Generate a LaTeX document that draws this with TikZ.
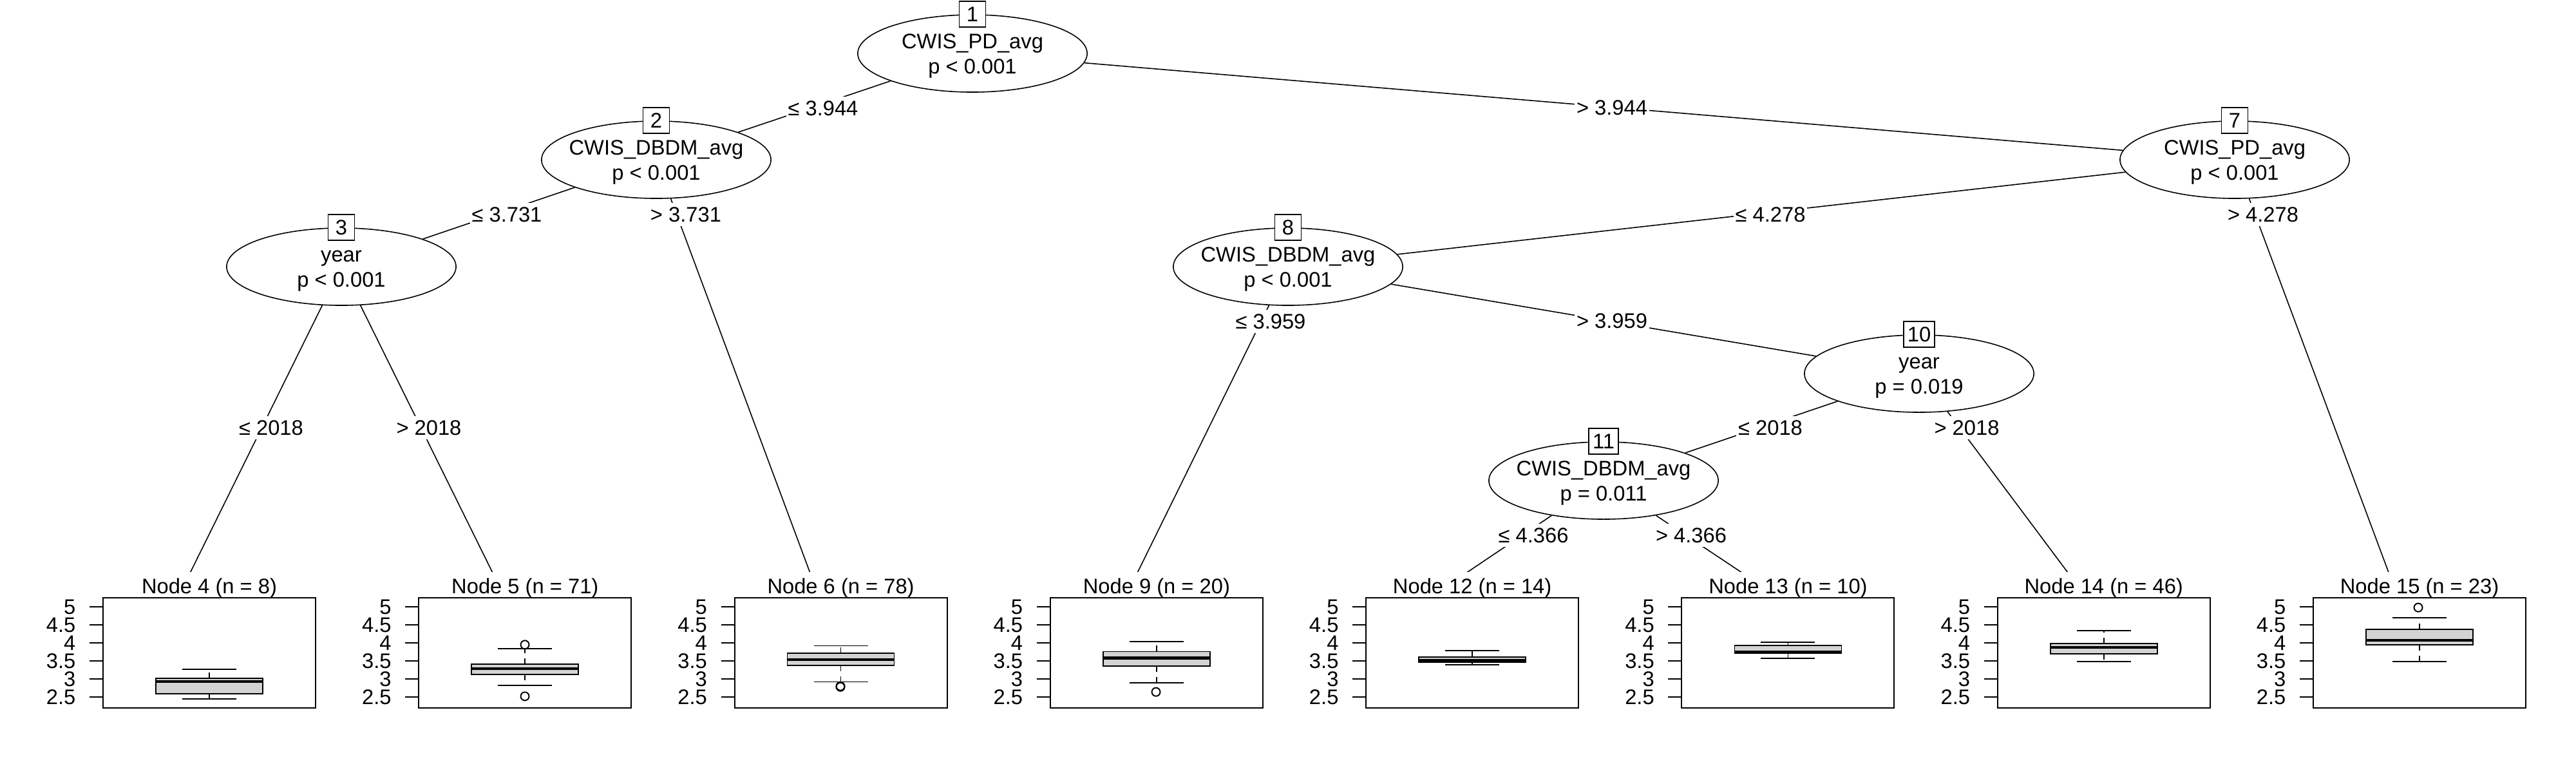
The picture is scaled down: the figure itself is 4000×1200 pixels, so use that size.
\documentclass[tikz,border=0pt]{standalone}
\usepackage{fontspec}
\setmainfont{Liberation Sans}
\usepackage{xcolor}
\usetikzlibrary{shapes.geometric}
\usetikzlibrary{backgrounds}
\definecolor{boxgray}{HTML}{D3D3D3}

\begin{document}
\begin{tikzpicture}[x = 0.01cm, y = -0.01cm,
	every node/.style = {font = \fontsize{9.3}{11.1}\selectfont},
	tree/.style = {line width = 0.45pt},
	splitnode/.style = {ellipse, draw, fill = white, line width = 0.45pt, minimum width = 3.56cm, minimum height = 1.2cm, inner sep = 0pt},
	splittext/.style = {anchor = center, align = center, inner sep = 0pt, text height = 0.624cm, text depth = 0cm},
	idbox/.style = {anchor = center, draw, fill = white, line width = 0.45pt, minimum width = 0.41cm, minimum height = 0.40cm, inner sep = 0.06cm},
	edgelbl/.style = {fill = white, inner xsep = 0.03cm, inner ysep = 0pt, text height = 0.296cm, text depth = 0.07cm},
	nodetitle/.style = {anchor = base, fill = white, inner xsep = 0.02cm, inner ysep = 0.09cm},
	tickl/.style = {anchor = east, inner sep = 0pt},
	panel/.style = {line width = 0.55pt},
	bxbox/.style = {draw, fill = boxgray, line width = 0.5pt},
	bxmed/.style = {line width = 1.2pt},
	whisk/.style = {line width = 0.5pt, dash pattern = on 0.09cm off 0.08cm}]
	\useasboundingbox (0,0) rectangle (4000,1200);
	\node[splitnode, label = {[splittext]center:{CWIS\_PD\_avg\\p < 0.001}}, label = {[idbox]north:1}] (n1) at (1510,83) {};
	\node[splitnode, label = {[splittext]center:{CWIS\_DBDM\_avg\\p < 0.001}}, label = {[idbox]north:2}] (n2) at (1019,248) {};
	\node[splitnode, label = {[splittext]center:{year\\p < 0.001}}, label = {[idbox]north:3}] (n3) at (530,414) {};
	\node[splitnode, label = {[splittext]center:{CWIS\_PD\_avg\\p < 0.001}}, label = {[idbox]north:7}] (n7) at (3470,248) {};
	\node[splitnode, label = {[splittext]center:{CWIS\_DBDM\_avg\\p < 0.001}}, label = {[idbox]north:8}] (n8) at (2000,414) {};
	\node[splitnode, label = {[splittext]center:{year\\p = 0.019}}, label = {[idbox]north:10}] (n10) at (2980,580) {};
	\node[splitnode, label = {[splittext]center:{CWIS\_DBDM\_avg\\p = 0.011}}, label = {[idbox]north:11}] (n11) at (2490,746) {};
%
	\foreach \k/\id/\cnt/\lw/\ql/\md/\qu/\uw in {0/4/8/2.44/2.59/2.93/3.02/3.26, 1/5/71/2.82/3.125/3.29/3.41/3.84, 2/6/78/2.92/3.37/3.54/3.71/3.92, 3/9/20/2.90/3.36/3.58/3.76/4.03, 4/12/14/3.39/3.46/3.51/3.61/3.78, 5/13/10/3.58/3.71/3.75/3.93/4.02, 6/14/46/3.48/3.69/3.87/3.98/4.34, 7/15/23/3.48/3.95/4.07/4.375/4.70}{
		\begin{scope}[xshift = \k*4.9cm]
			\coordinate (t\id) at (285,910);
			\node[nodetitle] (h\id) at (325,921) {Node \id{} (n = \cnt)};
			\draw[panel] (160,928) rectangle (490,1099);
			\foreach \v [count = \j] in {2.5,3,3.5,4,4.5,5}{
				\draw[panel] (139,{1222-56*\v}) -- (160,{1222-56*\v});
				\node[tickl] (y\id-\j) at (118,{1222-56*\v}) {\v};
			}
			\draw[whisk] (325,{1222-56*\qu}) -- (325,{1222-56*\uw});
			\draw[whisk] (325,{1222-56*\ql}) -- (325,{1222-56*\lw});
			\draw[panel] (283,{1222-56*\uw}) -- (367,{1222-56*\uw});
			\draw[panel] (283,{1222-56*\lw}) -- (367,{1222-56*\lw});
			\draw[bxbox] (242,{1222-56*\qu}) rectangle (408,{1222-56*\ql});
			\draw[bxmed] (242,{1222-56*\md}) -- (408,{1222-56*\md});
		\end{scope}
	}
	\foreach \k/\v in {1/3.95, 1/2.52, 2/2.78, 2/2.80, 3/2.64, 7/4.98}
		\draw[panel] ({325+490*\k},{1222-56*\v}) circle[radius = 0.065cm];
%
	\begin{scope}[on background layer]
		\fill[white] (0,0) rectangle (4000,1200);
		\draw[tree] (n1) -- (n2);
		\draw[tree] (n1) -- (n7);
		\draw[tree] (n2) -- (n3);
		\draw[tree] (n2) -- (t6);
		\draw[tree] (n3) -- (t4);
		\draw[tree] (n3) -- (t5);
		\draw[tree] (n7) -- (n8);
		\draw[tree] (n7) -- (t15);
		\draw[tree] (n8) -- (t9);
		\draw[tree] (n8) -- (n10);
		\draw[tree] (n10) -- (n11);
		\draw[tree] (n10) -- (t14);
		\draw[tree] (n11) -- (t12);
		\draw[tree] (n11) -- (t13);
	\end{scope}
%
	\node[edgelbl] (e1l) at (1278,168) {≤ 3.944};
	\node[edgelbl] (e1r) at (2503,167) {> 3.944};
	\node[edgelbl] (e2l) at (787,333) {≤ 3.731};
	\node[edgelbl] (e2r) at (1065,333) {> 3.731};
	\node[edgelbl] (e3l) at (421,664) {≤ 2018};
	\node[edgelbl] (e3r) at (666,664) {> 2018};
	\node[edgelbl] (e7l) at (2749,333) {≤ 4.278};
	\node[edgelbl] (e7r) at (3514,333) {> 4.278};
	\node[edgelbl] (e8l) at (1973,499) {≤ 3.959};
	\node[edgelbl] (e8r) at (2503,498) {> 3.959};
	\node[edgelbl] (e10l) at (2749,664) {≤ 2018};
	\node[edgelbl] (e10r) at (3054,664) {> 2018};
	\node[edgelbl] (e11l) at (2381,831) {≤ 4.366};
	\node[edgelbl] (e11r) at (2626,831) {> 4.366};
\end{tikzpicture}
\end{document}
